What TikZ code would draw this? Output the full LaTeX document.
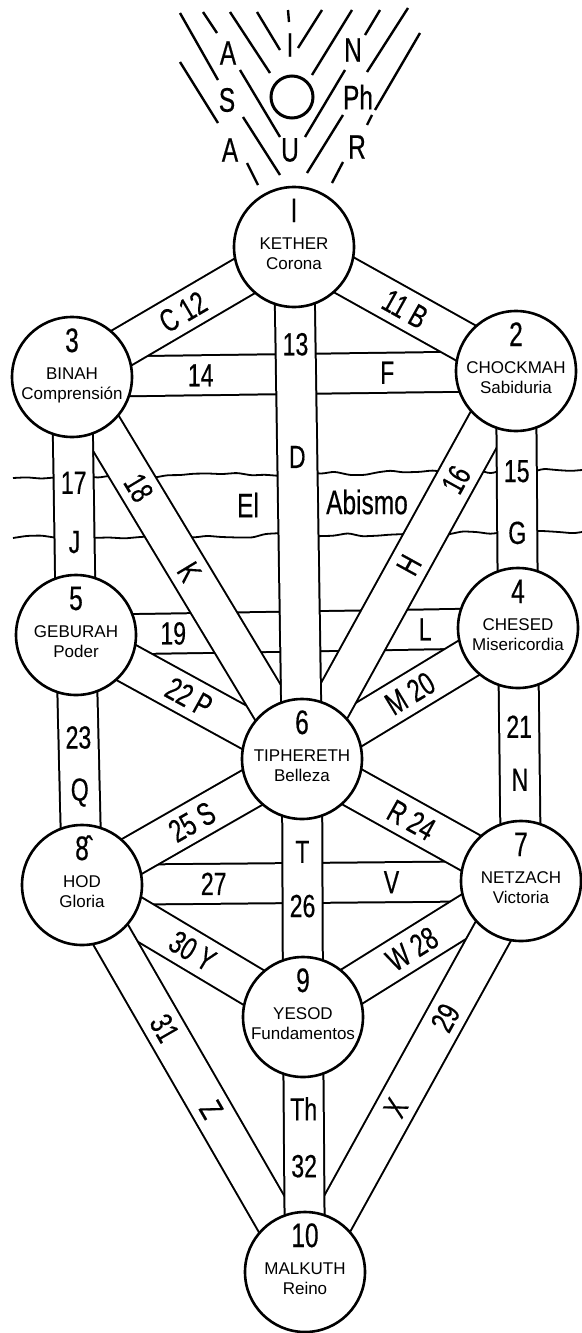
\documentclass[tikz,border=0pt]{standalone}
\usepackage{fontspec}
\setmainfont{Liberation Sans}
\newfontfamily\condsf[FakeStretch=0.72, FakeBold=0.4]{Liberation Sans}
\usetikzlibrary{decorations.pathmorphing}
\pgfdeclarelayer{abyss}
\pgfdeclarelayer{lowpath}
\pgfdeclarelayer{toppath}
\pgfsetlayers{abyss,lowpath,toppath,main}
\tikzset{
  sephira/.style={circle, draw, line width=1.3pt, fill=white, minimum size=60pt, inner sep=0pt},
  band/.style={line width=1pt, double=white, double distance=19pt},
  pathlbl/.style={font=\condsf\fontsize{16}{16}\selectfont, inner sep=0pt},
  bigtxt/.style={font=\condsf\fontsize{17}{17}\selectfont, inner sep=0pt},
  sephnum/.style={anchor=base, font=\condsf\fontsize{17}{17}\selectfont, inner sep=0pt},
  sephname/.style={anchor=base, font=\fontsize{8.5}{8.5}\selectfont, inner sep=0pt},
  ray/.style={line width=1.2pt},
  veil/.style={line width=0.9pt, decorate, rounded corners=1.5pt,
    decoration={random steps, segment length=7pt, amplitude=1.1pt}}
}

\begin{document}
\begin{tikzpicture}[x=0.5pt, y=-0.5pt]
  \useasboundingbox (0,0) rectangle (582,1333);

  % the ten sephiroth
  \node[sephira] (kether)  at (294,247)  {};
  \node[sephira] (binah)   at (72,377)   {};
  \node[sephira] (chokmah) at (516,371)  {};
  \node[sephira] (geburah) at (76,635)   {};
  \node[sephira] (chesed)  at (518,628)  {};
  \node[sephira] (tiph)    at (302,759)  {};
  \node[sephira] (hod)     at (82,885)   {};
  \node[sephira] (netzach) at (521,881)  {};
  \node[sephira] (yesod)   at (303,1017) {};
  \node[sephira] (malkuth) at (305,1272) {};
  \foreach \s/\n/\a/\b in {kether/I/KETHER/Corona, binah/3/BINAH/Comprensión,
      chokmah/2/CHOCKMAH/Sabiduria, geburah/5/GEBURAH/Poder,
      chesed/4/CHESED/Misericordia, tiph/6/TIPHERETH/Belleza,
      hod/{\^8}/HOD/Gloria, netzach/7/NETZACH/Victoria,
      yesod/9/YESOD/Fundamentos, malkuth/10/MALKUTH/Reino}{
    \node[sephnum]  (\s-n) at ([yshift=12.5pt]\s.center) {\n};
    \node[sephname] (\s-a) at ([yshift=-1pt]\s.center) {\a};
    \node[sephname] (\s-b) at ([yshift=-11pt]\s.center) {\b};
  }

  % the abyss
  \begin{pgfonlayer}{abyss}
    \fill[white] (0,0) rectangle (582,1333);
    \pgfmathsetseed{7}
    \draw[veil] (13,478) -- (582,470);
    \draw[veil] (13,538) -- (582,532);
  \end{pgfonlayer}
  \node[bigtxt] (el) at (248,505) {El};
  \node[bigtxt] (abismo) at (367,502) {Abismo};

  % horizontal paths, passing under the others
  \begin{pgfonlayer}{lowpath}
    \draw[band] (binah.center) -- (chokmah.center)
      node[pathlbl, pos=0.29] (p14) {14} node[pathlbl, pos=0.71] (pF) {F};
    \draw[band] (geburah.center) -- (chesed.center)
      node[pathlbl, pos=0.22] (p19) {19} node[pathlbl, pos=0.79] (pL) {L};
    \draw[band] (hod.center) -- (netzach.center)
      node[pathlbl, pos=0.30] (p27) {27} node[pathlbl, pos=0.705] (pV) {V};
  \end{pgfonlayer}

  % the other paths
  \begin{pgfonlayer}{toppath}
    \draw[band] (binah.center) -- (kether.center)
      node[pathlbl, sloped, midway] (p12) {C 12};
    \draw[band] (kether.center) -- (chokmah.center)
      node[pathlbl, sloped, midway] (p11) {11 B};
    \draw[band] (geburah.center) -- (tiph.center)
      node[pathlbl, sloped, midway] (p22) {22 P};
    \draw[band] (tiph.center) -- (chesed.center)
      node[pathlbl, sloped, midway] (p20) {M 20};
    \draw[band] (hod.center) -- (tiph.center)
      node[pathlbl, sloped, midway] (p25) {25 S};
    \draw[band] (tiph.center) -- (netzach.center)
      node[pathlbl, sloped, midway] (p24) {R 24};
    \draw[band] (hod.center) -- (yesod.center)
      node[pathlbl, sloped, midway] (p30) {30 Y};
    \draw[band] (yesod.center) -- (netzach.center)
      node[pathlbl, sloped, midway] (p28) {W 28};
    \draw[band] (binah.center) -- (tiph.center)
      node[pathlbl, sloped, pos=0.29] (p18) {18} node[pathlbl, sloped, pos=0.51] (pK) {K};
    \draw[band] (tiph.center) -- (chokmah.center)
      node[pathlbl, sloped, pos=0.72] (p16) {16} node[pathlbl, sloped, pos=0.50] (pH) {H};
    \draw[band] (kether.center) -- (tiph.center)
      node[pathlbl, pos=0.19] (p13) {13} node[pathlbl, pos=0.41] (pD) {D};
    \draw[band] (binah.center) -- (geburah.center)
      node[pathlbl, pos=0.41] (p17) {17} node[pathlbl, pos=0.64] (pJ) {J};
    \draw[band] (chokmah.center) -- (chesed.center)
      node[pathlbl, pos=0.39] (p15) {15} node[pathlbl, pos=0.63] (pG) {G};
    \draw[band] (geburah.center) -- (hod.center)
      node[pathlbl, pos=0.41] (p23) {23} node[pathlbl, pos=0.63] (pQ) {Q};
    \draw[band] (chesed.center) -- (netzach.center)
      node[pathlbl, pos=0.39] (p21) {21} node[pathlbl, pos=0.60] (pN) {N};
    \draw[band] (tiph.center) -- (yesod.center)
      node[pathlbl, pos=0.36] (pT) {T} node[pathlbl, pos=0.57] (p26) {26};
    \draw[band] (hod.center) -- (malkuth.center)
      node[pathlbl, sloped, pos=0.37] (p31) {31} node[pathlbl, sloped, pos=0.58] (pZ) {Z};
    \draw[band] (malkuth.center) -- (netzach.center)
      node[pathlbl, sloped, pos=0.65] (p29) {29} node[pathlbl, sloped, pos=0.42] (pX) {X};
    \draw[band] (yesod.center) -- (malkuth.center)
      node[pathlbl, pos=0.36] (pTh) {Th} node[pathlbl, pos=0.585] (p32) {32};
  \end{pgfonlayer}

  % rays above kether
  \draw[ray] (180,13) -- (218,80) (243,117) -- (280,175);
  \draw[ray] (180,62) -- (218,123) (247,163) -- (258,185);
  \draw[ray] (203,12) -- (217,33) (240,70) -- (280,137);
  \draw[ray] (230,12) -- (270,73);
  \draw[ray] (257,12) -- (280,50);
  \draw[ray] (288,10) -- (289,22);
  \draw[ray] (408,8) -- (367,72) (343,115) -- (307,173);
  \draw[ray] (420,33) -- (375,110) (372,115) -- (367,125) (343,162) -- (332,183);
  \draw[ray] (380,10) -- (365,35) (345,70) -- (305,137);
  \draw[ray] (352,10) -- (312,75);
  \draw[ray] (322,10) -- (298,48);
  \node[circle, draw, line width=1.5pt, minimum size=21pt, inner sep=0pt] (o) at (292,97) {};
  \node[bigtxt] (a1) at (228,53) {A};
  \node[bigtxt] (s)  at (227,100) {S};
  \node[bigtxt] (a2) at (230,150) {A};
  \node[bigtxt] (i)  at (290,45) {I};
  \node[bigtxt] (u)  at (290,150) {U};
  \node[bigtxt] (n)  at (353,50) {N};
  \node[bigtxt] (ph) at (358,97) {Ph};
  \node[bigtxt] (r)  at (357,147) {R};
\end{tikzpicture}
\end{document}
